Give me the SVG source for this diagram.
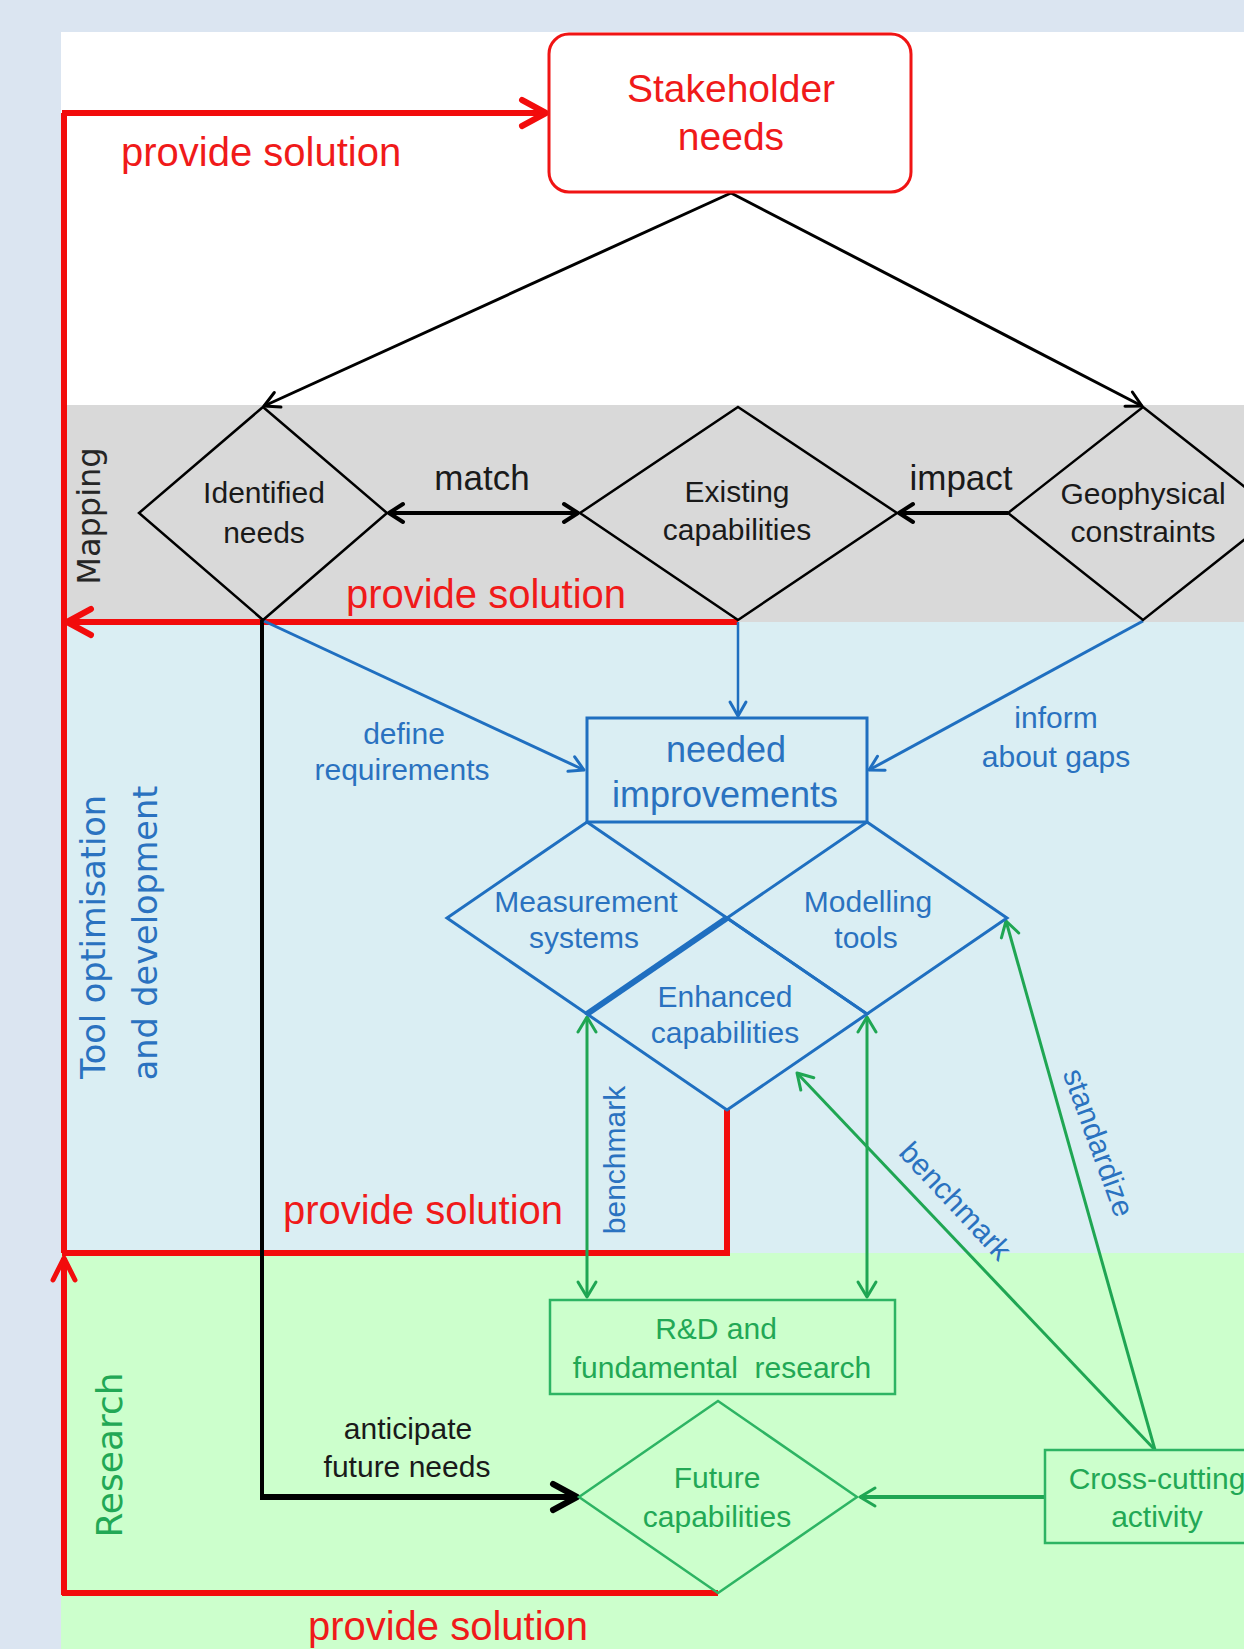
<svg xmlns="http://www.w3.org/2000/svg" width="1244" height="1649" viewBox="0 0 1244 1649">
<defs>
<style>
.t{font-family:"Liberation Sans",Arial,sans-serif;text-anchor:middle}
.side{font-family:"DejaVu Sans",Verdana,sans-serif;text-anchor:middle}
.red{fill:#f01a1a}
.blk{fill:#1a1a1a}
.blu{fill:#2a72c0}
.grn{fill:#22a855}
.f30{font-size:30px}
.f36{font-size:36px}
.f40{font-size:40px}
.rl{stroke:#f20c0c;stroke-width:6;fill:none}
.bk{stroke:#000;fill:none}
.bu{stroke:#1f6fc0;fill:none}
.gr{stroke:#1fa653;fill:none}
.nbk{fill:none;stroke:#000;stroke-width:2.5}
.nbu{fill:none;stroke:#1f6fc0;stroke-width:3}
.ngr{fill:none;stroke:#2db463;stroke-width:2.5}
</style>
<marker id="mRed" markerUnits="userSpaceOnUse" markerWidth="1" markerHeight="1" refX="0" refY="0" orient="auto" overflow="visible">
<path d="M-24,-13 L0,0 L-24,13" fill="none" stroke="#f20c0c" stroke-width="6" stroke-linecap="round" stroke-linejoin="round"/>
</marker>
<marker id="mRedS" markerUnits="userSpaceOnUse" markerWidth="1" markerHeight="1" refX="0" refY="0" orient="auto" overflow="visible">
<path d="M-22,-11 L0,0 L-22,11" fill="none" stroke="#f20c0c" stroke-width="5" stroke-linecap="round" stroke-linejoin="round"/>
</marker>
<marker id="mBkS" markerUnits="userSpaceOnUse" markerWidth="1" markerHeight="1" refX="0" refY="0" orient="auto" overflow="visible">
<path d="M-15,-8 L0,0 L-15,8" fill="none" stroke="#000" stroke-width="3" stroke-linecap="round" stroke-linejoin="round"/>
</marker>
<marker id="mBkM" markerUnits="userSpaceOnUse" markerWidth="1" markerHeight="1" refX="0" refY="0" orient="auto-start-reverse" overflow="visible">
<path d="M-14,-9 L0,0 L-14,9" fill="none" stroke="#000" stroke-width="4" stroke-linecap="round" stroke-linejoin="round"/>
</marker>
<marker id="mBkL" markerUnits="userSpaceOnUse" markerWidth="1" markerHeight="1" refX="0" refY="0" orient="auto" overflow="visible">
<path d="M-24,-13 L0,0 L-24,13" fill="none" stroke="#000" stroke-width="6" stroke-linecap="round" stroke-linejoin="round"/>
</marker>
<marker id="mBu" markerUnits="userSpaceOnUse" markerWidth="1" markerHeight="1" refX="0" refY="0" orient="auto" overflow="visible">
<path d="M-14,-8 L0,0 L-14,8" fill="none" stroke="#1f6fc0" stroke-width="3" stroke-linecap="round" stroke-linejoin="round"/>
</marker>
<marker id="mGr" markerUnits="userSpaceOnUse" markerWidth="1" markerHeight="1" refX="0" refY="0" orient="auto-start-reverse" overflow="visible">
<path d="M-15,-9 L0,0 L-15,9" fill="none" stroke="#1fa653" stroke-width="3" stroke-linecap="round" stroke-linejoin="round"/>
</marker>
</defs>

<g id="background">
<rect x="0" y="0" width="1244" height="1649" fill="#dbe5f1"/>
<rect x="61" y="32" width="1183" height="375" fill="#ffffff"/>
<rect x="61" y="405" width="1183" height="217" fill="#d9d9d9"/>
<rect x="61" y="622" width="1183" height="631" fill="#daeef3"/>
<rect x="61" y="1253" width="1183" height="396" fill="#ccffcc"/>
</g>

<g id="lane-labels">
<text class="side" transform="translate(100,516) rotate(-90)" font-size="32" fill="#262626">Mapping</text>
<text class="side blu" transform="translate(105,937) rotate(-90)" font-size="33.5">Tool optimisation</text>
<text class="side blu" transform="translate(157,933) rotate(-90)" font-size="33.5">and development</text>
<text class="side grn" transform="translate(122,1455) rotate(-90)" font-size="36">Research</text>
</g>

<g id="connectors">
<!-- red provide-solution loops -->
<path class="rl" stroke-width="4.5" d="M64,1253 V113"/>
<path class="rl" d="M62,113 H546" marker-end="url(#mRed)"/>
<path class="rl" d="M738,622 H67" marker-end="url(#mRed)"/>
<path class="rl" d="M727,1110 V1253 H62"/>
<path class="rl" d="M718,1593 H62"/>
<path class="rl" stroke-width="4.5" d="M64,1595 V1258" marker-end="url(#mRedS)"/>
<!-- black from stakeholder -->
<path class="bk" stroke-width="3" d="M731,193 L264,406" marker-end="url(#mBkS)"/>
<path class="bk" stroke-width="3" d="M731,193 L1142,406" marker-end="url(#mBkS)"/>
<!-- match / impact -->
<path class="bk" stroke-width="4" d="M389,513 H578" marker-start="url(#mBkM)" marker-end="url(#mBkM)"/>
<path class="bk" stroke-width="4" d="M1008,513 H899" marker-end="url(#mBkM)"/>
<!-- anticipate future needs -->
<path class="bk" stroke-width="4" d="M262,620 V1497"/>
<path class="bk" stroke-width="6" d="M260,1497 H577" marker-end="url(#mBkL)"/>
<!-- blue -->
<path class="bu" stroke-width="3" d="M264,621 L584,770" marker-end="url(#mBu)"/>
<path class="bu" stroke-width="2.5" d="M738,622 V716" marker-end="url(#mBu)"/>
<path class="bu" stroke-width="3" d="M1143,621 L869,770" marker-end="url(#mBu)"/>
<!-- green -->
<path class="gr" stroke-width="3" d="M587,1017 V1297" marker-start="url(#mGr)" marker-end="url(#mGr)"/>
<path class="gr" stroke-width="3" d="M867,1017 V1297" marker-start="url(#mGr)" marker-end="url(#mGr)"/>
<path class="gr" stroke-width="3" d="M1155,1450 L1006,921" marker-end="url(#mGr)"/>
<path class="gr" stroke-width="3" d="M1155,1450 L797,1073" marker-end="url(#mGr)"/>
<path class="gr" stroke-width="4" d="M1045,1497 H860" marker-end="url(#mGr)"/>
</g>

<g id="edge-labels">
<text class="t red f40" x="121" y="166" style="text-anchor:start">provide solution</text>
<text class="t red f40" x="486" y="608">provide solution</text>
<text class="t red f40" x="423" y="1224">provide solution</text>
<text class="t red f40" x="448" y="1640">provide solution</text>
<text class="t blk" font-size="35" x="482" y="490">match</text>
<text class="t blk" font-size="35" x="961" y="490">impact</text>
<text class="t blu f30" x="404" y="744">define</text>
<text class="t blu f30" x="402" y="780">requirements</text>
<text class="t blu f30" x="1056" y="728">inform</text>
<text class="t blu f30" x="1056" y="767">about gaps</text>
<text class="t blu f30" transform="translate(625,1160) rotate(-90)">benchmark</text>
<text class="t blu f30" transform="translate(948,1208) rotate(47)">benchmark</text>
<text class="t blu f30" transform="translate(1089,1146) rotate(70)">standardize</text>
<text class="t blk f30" x="408" y="1439">anticipate</text>
<text class="t blk f30" x="407" y="1477">future needs</text>
</g>

<g id="stakeholder-needs">
<rect x="549" y="34" width="362" height="158" rx="20" fill="#fff" stroke="#f01414" stroke-width="3"/>
<text class="t red" font-size="39" x="731" y="102">Stakeholder</text>
<text class="t red" font-size="39" x="731" y="150">needs</text>
</g>

<g id="identified-needs">
<polygon class="nbk" points="263,407 387,513 263,620 139,513"/>
<text class="t blk f30" x="264" y="503">Identified</text>
<text class="t blk f30" x="264" y="543">needs</text>
</g>

<g id="existing-capabilities">
<polygon class="nbk" points="738,407 897,513 738,620 580,513"/>
<text class="t blk f30" x="737" y="502">Existing</text>
<text class="t blk f30" x="737" y="540">capabilities</text>
</g>

<g id="geophysical-constraints">
<polygon class="nbk" points="1143,407 1278,513 1143,620 1008,513"/>
<text class="t blk f30" x="1143" y="504">Geophysical</text>
<text class="t blk f30" x="1143" y="542">constraints</text>
</g>

<g id="needed-improvements">
<rect x="587" y="718" width="280" height="104" class="nbu" stroke-width="2.5"/>
<text class="t blu f36" x="726" y="762">needed</text>
<text class="t blu f36" x="725" y="807">improvements</text>
</g>

<g id="measurement-systems">
<polygon class="nbu" points="587,822 727,918 587,1014 447,918"/>
<text class="t blu f30" x="586" y="912">Measurement</text>
<text class="t blu f30" x="584" y="948">systems</text>
</g>

<g id="modelling-tools">
<polygon class="nbu" points="867,822 1007,918 867,1014 727,918"/>
<text class="t blu f30" x="868" y="912">Modelling</text>
<text class="t blu f30" x="866" y="948">tools</text>
</g>

<g id="enhanced-capabilities">
<polygon class="nbu" points="727,918 867,1014 727,1110 587,1014"/>
<line x1="587" y1="1014" x2="727" y2="918" stroke="#1f6fc0" stroke-width="6"/>
<text class="t blu f30" x="725" y="1007">Enhanced</text>
<text class="t blu f30" x="725" y="1043">capabilities</text>
</g>

<g id="rd-research">
<rect x="550" y="1300" width="345" height="94" class="ngr" stroke-width="2"/>
<text class="t grn f30" x="716" y="1339">R&amp;D and</text>
<text class="t grn f30" x="722" y="1378" xml:space="preserve">fundamental  research</text>
</g>

<g id="future-capabilities">
<polygon class="ngr" points="718,1401 857,1497 718,1593 579,1497" stroke-width="3"/>
<text class="t grn f30" x="717" y="1488">Future</text>
<text class="t grn f30" x="717" y="1527">capabilities</text>
</g>

<g id="cross-cutting-activity">
<rect x="1045" y="1450" width="240" height="93" class="ngr" stroke-width="2"/>
<text class="t grn f30" x="1157" y="1489">Cross-cutting</text>
<text class="t grn f30" x="1157" y="1527">activity</text>
</g>
</svg>
